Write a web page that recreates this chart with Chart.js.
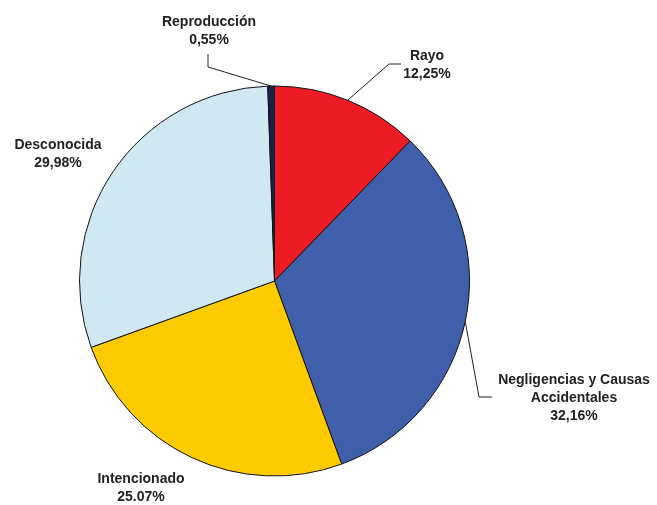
<!DOCTYPE html>
<html>
<head>
<meta charset="utf-8">
<script src="https://cdn.jsdelivr.net/npm/chart.js@4.4.0/dist/chart.umd.min.js"></script>
<style>
  html, body { margin: 0; padding: 0; background: #fff; }
  #wrap { width: 657px; height: 505px; position: relative; }
</style>
</head>
<body>
<div id="wrap"><canvas id="myChart" width="657" height="505"></canvas></div>
<script>
// --- Data (clockwise from 12 o'clock) ---
const causes = [
  'Rayo',
  ['Negligencias y Causas', 'Accidentales'],
  'Intencionado',
  'Desconocida',
  'Reproducción'
];
const shares = [12.25, 32.16, 25.07, 29.98, 0.55];
const shareLabels = ['12,25%', '32,16%', '25.07%', '29,98%', '0,55%'];
const sliceColors = ['#ED1C24', '#3F5FAB', '#FDCB00', '#D0E8F1', '#1F1D4A'];

// --- Label placement (text centre + optional leader elbow/end) ---
const labelLayout = [
  { x: 427, y: 56,  leader: [[389, 64], [401, 64]] },
  { x: 574, y: 380, leader: [[479, 397], [492, 397]] },
  { x: 141, y: 479 },
  { x: 58,  y: 145 },
  { x: 209, y: 22,  leader: [[208, 67], [208, 54]] }
];

// --- Plugin: leader lines + two/three line labels ---
const sliceLabels = {
  id: 'sliceLabels',
  afterDatasetsDraw(chart) {
    const ctx = chart.ctx;
    const arcs = chart.getDatasetMeta(0).data;
    ctx.save();
    arcs.forEach((arc, i) => {
      const lay = labelLayout[i];
      if (lay.leader) {
        const mid = (arc.startAngle + arc.endAngle) / 2;
        const px = arc.x + Math.cos(mid) * arc.outerRadius;
        const py = arc.y + Math.sin(mid) * arc.outerRadius;
        ctx.beginPath();
        ctx.moveTo(px, py);
        lay.leader.forEach(p => ctx.lineTo(p[0], p[1]));
        ctx.strokeStyle = '#222';
        ctx.lineWidth = 1;
        ctx.stroke();
      }
      const name = chart.data.labels[i];
      const lines = (Array.isArray(name) ? name : [name]).concat(shareLabels[i]);
      ctx.font = 'bold 14px "Liberation Sans", Arial, sans-serif';
      ctx.fillStyle = '#222';
      ctx.textAlign = 'center';
      ctx.textBaseline = 'middle';
      lines.forEach((t, k) => ctx.fillText(t, lay.x, lay.y + k * 18));
    });
    ctx.restore();
  }
};

// --- Pie chart ---
const ctx = document.getElementById('myChart').getContext('2d');
const pieChart = new Chart(ctx, {
  type: 'pie',
  data: {
    labels: causes,
    datasets: [{
      data: shares,
      backgroundColor: sliceColors,
      borderColor: '#111',
      borderWidth: 1
    }]
  },
  options: {
    responsive: false,
    animation: false,
    layout: {
      padding: { left: 79, top: 85, right: 187, bottom: 28 }
    },
    plugins: {
      legend: { display: false },
      tooltip: { enabled: false }
    }
  },
  plugins: [sliceLabels]
});
</script>
</body>
</html>
